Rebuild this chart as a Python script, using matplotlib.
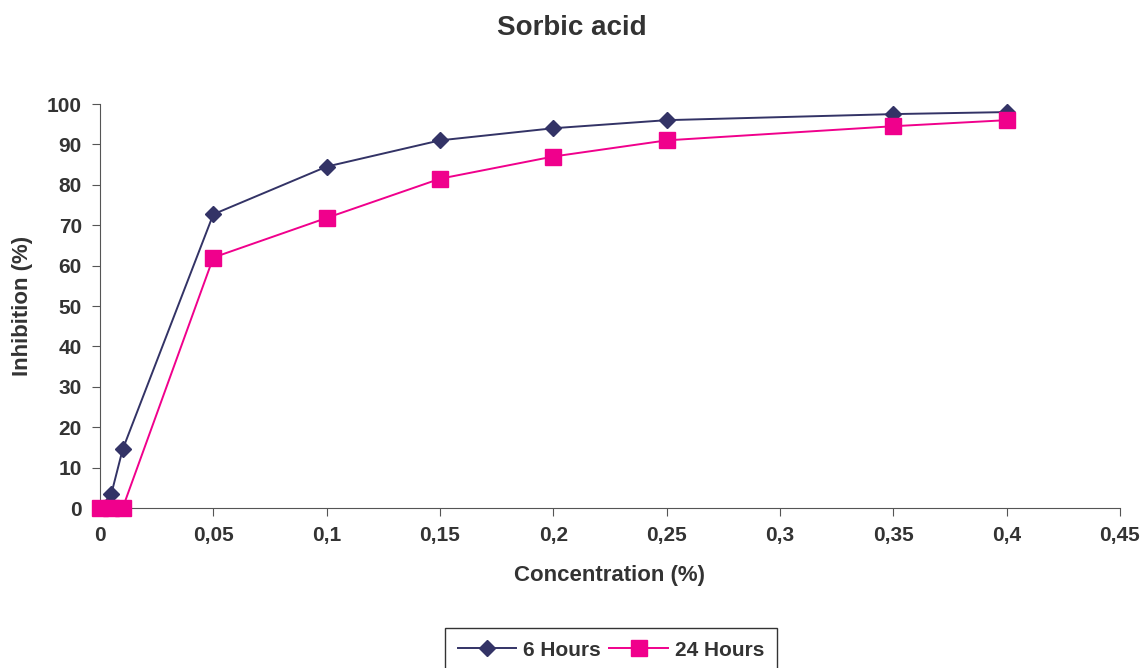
import matplotlib
matplotlib.use('Agg')
from matplotlib import pyplot as plt

plt.rcParams['font.family'] = ['Liberation Sans', 'DejaVu Sans']
plt.rcParams['font.weight'] = 'bold'
plt.rcParams['axes.labelweight'] = 'bold'

# data
conc = [0, 0.005, 0.01, 0.05, 0.1, 0.15, 0.2, 0.25, 0.35, 0.4]
inh_6h = [0, 3.5, 14.5, 72.7, 84.5, 91, 94, 96, 97.5, 98]
inh_24h = [0, 0, 0, 62, 71.8, 81.5, 87, 91, 94.5, 96]
xticks = [0, 0.05, 0.1, 0.15, 0.2, 0.25, 0.3, 0.35, 0.4, 0.45]
xtick_labels = ['0', '0,05', '0,1', '0,15', '0,2', '0,25', '0,3', '0,35', '0,4', '0,45']
yticks = list(range(0, 101, 10))

text_col = '#333333'
c6 = '#333366'
c24 = '#f0008c'

fig = plt.figure(figsize=(11.44, 6.68), dpi=100)
ax = fig.add_axes([100/1144, 1-508/668, 1020/1144, 404/668])

ax.plot(conc, inh_6h, color=c6, marker='D', markersize=8, lw=1.4, label='6 Hours', clip_on=False, zorder=2)
ax.plot(conc, inh_24h, color=c24, marker='s', markersize=11, lw=1.4, label='24 Hours', clip_on=False, zorder=3)

ax.set_xlim(0, 0.45)
ax.set_ylim(0, 100)
ax.set_xticks(xticks)
ax.set_xticklabels(xtick_labels)
ax.set_yticks(yticks)
for s in ['top', 'right']:
	ax.spines[s].set_visible(False)
for s in ['left', 'bottom']:
	ax.spines[s].set_color('#555555')
ax.tick_params(axis='both', colors='#555555', labelcolor=text_col, labelsize=15, length=6, direction='out', pad=7)

ax.set_xlabel('Concentration (%)', fontsize=16, color=text_col, labelpad=14)
ax.set_ylabel('Inhibition (%)', fontsize=16, color=text_col, labelpad=10)
fig.text(572/1144, 1-28/668, 'Sorbic acid', ha='center', va='center', fontsize=20, color=text_col, fontweight='bold')

leg = fig.legend(loc='upper center', bbox_to_anchor=(611/1144, 1-628/668), ncol=2,
	fancybox=False, edgecolor='#333333', fontsize=15, handlelength=2.8, columnspacing=0.4,
	handletextpad=0.35, borderpad=0.6, borderaxespad=0, framealpha=1)
leg.get_frame().set_linewidth(1)
for t in leg.get_texts():
	t.set_color(text_col)

plt.savefig('out.png')
